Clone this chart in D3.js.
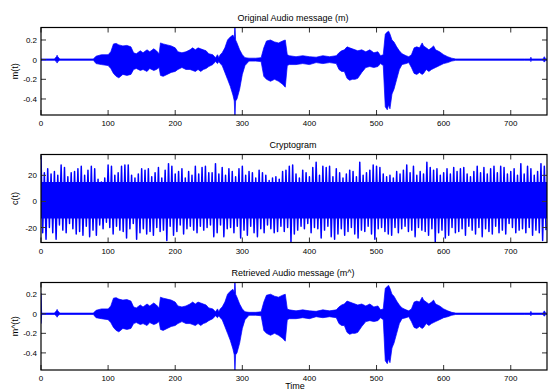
<!DOCTYPE html>
<html lang="en">
<head>
<meta charset="UTF-8">
<title>Audio encryption</title>
<style>
  body { margin: 0; background: #fff; }
  svg text { font-family: "Liberation Sans", Arial, Helvetica, sans-serif; fill: #000; }
</style>
</head>
<body>
<div id="chart"></div>
<script src="https://d3js.org/d3.v7.min.js"></script>
<script>
// ---- data ----
// audio envelope breakpoints (time, upper peak, lower peak)
const envT = [
  0, 1, 20, 23, 24, 25, 28, 78, 82, 90,
  100, 104, 108, 112, 116, 122, 128, 134, 138, 142,
  148, 152, 158, 162, 168, 172, 176, 178, 182, 188,
  194, 200, 204, 210, 216, 222, 226, 230, 234, 238,
  242, 246, 250, 256, 260, 263, 265, 267, 270, 274,
  278, 282, 286, 288, 289, 290, 292, 296, 300, 304,
  310, 320, 328, 332, 336, 342, 348, 354, 360, 364,
  367, 370, 380, 390, 400, 410, 420, 430, 440, 444,
  448, 452, 456, 460, 464, 468, 472, 478, 484, 490,
  496, 502, 506, 510, 513, 516, 518, 520, 523, 526,
  530, 534, 538, 544, 548, 552, 556, 560, 564, 568,
  570, 574, 578, 582, 585, 588, 594, 600, 606, 612,
  618, 720, 729, 730, 731, 748, 750, 752, 754
];
const audioHi = [
  0.008, 0.007, 0.007, 0.03, 0.045, 0.03, 0.007, 0.007, 0.035, 0.05,
  0.05, 0.08, 0.16, 0.165, 0.15, 0.14, 0.145, 0.13, 0.07, 0.06,
  0.09, 0.07, 0.1, 0.08, 0.11, 0.09, 0.06, 0.17, 0.16, 0.15,
  0.14, 0.12, 0.08, 0.07, 0.08, 0.1, 0.12, 0.1, 0.12, 0.11,
  0.1, 0.09, 0.06, 0.05, 0.02, 0.05, 0.02, 0.05, 0.07, 0.12,
  0.2, 0.23, 0.25, 0.22, 0.36, 0.2, 0.17, 0.1, 0.05, 0.02,
  0.015, 0.015, 0.02, 0.12, 0.19, 0.2, 0.18, 0.17, 0.19, 0.2,
  0.05, 0.04, 0.03, 0.04, 0.03, 0.025, 0.04, 0.03, 0.04, 0.07,
  0.09, 0.1, 0.13, 0.12, 0.11, 0.1, 0.09, 0.1, 0.08, 0.1,
  0.07, 0.08, 0.04, 0.05, 0.26, 0.28, 0.29, 0.26, 0.2, 0.18,
  0.13, 0.09, 0.06, 0.04, 0.03, 0.05, 0.12, 0.13, 0.12, 0.17,
  0.14, 0.12, 0.1, 0.12, 0.14, 0.1, 0.08, 0.05, 0.03, 0.015,
  0.007, 0.007, 0.007, 0.025, 0.007, 0.007, 0.03, 0.007, 0.007
];
const audioLo = [
  -0.008, -0.007, -0.007, -0.02, -0.035, -0.02, -0.007, -0.007, -0.04, -0.05,
  -0.06, -0.09, -0.14, -0.17, -0.185, -0.15, -0.16, -0.15, -0.1, -0.09,
  -0.11, -0.1, -0.12, -0.09, -0.11, -0.1, -0.08, -0.16, -0.17, -0.15,
  -0.13, -0.12, -0.1, -0.08, -0.1, -0.1, -0.11, -0.12, -0.1, -0.12,
  -0.1, -0.09, -0.07, -0.05, -0.02, -0.04, -0.02, -0.04, -0.06, -0.13,
  -0.2, -0.27, -0.36, -0.42, -0.6, -0.42, -0.4, -0.3, -0.15, -0.06,
  -0.015, -0.015, -0.02, -0.17, -0.2, -0.22, -0.2, -0.22, -0.25, -0.28,
  -0.06, -0.05, -0.05, -0.04, -0.05, -0.03, -0.04, -0.03, -0.04, -0.1,
  -0.12, -0.12, -0.19, -0.21, -0.2, -0.2, -0.19, -0.13, -0.08, -0.07,
  -0.08, -0.07, -0.04, -0.06, -0.48, -0.51, -0.46, -0.5, -0.35, -0.3,
  -0.2, -0.1, -0.05, -0.04, -0.03, -0.08, -0.14, -0.15, -0.13, -0.15,
  -0.14, -0.1, -0.12, -0.1, -0.09, -0.08, -0.06, -0.04, -0.03, -0.015,
  -0.007, -0.007, -0.007, -0.02, -0.007, -0.007, -0.025, -0.007, -0.007
];
// retrieved message: same envelope, except the click at t = 0
const retHead = [0.21, -0.1];

// cryptogram peaks, one pair every 5 time units
const cryptoT = d3.range(0, 751, 5);
const cryptoHi = [
  35, 22, 25, 21, 23, 20, 28, 26, 19, 22,
  23, 25, 27, 20, 24, 27, 25, 17, 15, 18,
  28, 27, 20, 22, 27, 28, 28, 20, 18, 21,
  25, 24, 25, 19, 22, 26, 18, 24, 29, 27,
  21, 23, 25, 18, 23, 20, 27, 21, 26, 27,
  22, 22, 29, 21, 26, 20, 25, 23, 19, 25,
  27, 20, 23, 22, 18, 24, 22, 20, 16, 18,
  19, 17, 23, 24, 27, 28, 21, 18, 24, 22,
  19, 26, 30, 20, 27, 26, 27, 19, 25, 22,
  18, 21, 24, 23, 19, 30, 20, 22, 24, 28,
  27, 26, 21, 19, 20, 18, 23, 21, 24, 28,
  22, 27, 20, 23, 21, 30, 26, 24, 25, 20,
  22, 25, 21, 26, 23, 25, 26, 21, 19, 23,
  27, 22, 26, 21, 25, 27, 22, 27, 26, 21,
  23, 25, 20, 29, 21, 27, 25, 20, 23, 29,
  27
];
const cryptoLo = [
  -24, -29, -20, -24, -29, -18, -22, -24, -17, -21,
  -25, -23, -26, -19, -27, -22, -26, -18, -21, -16,
  -20, -25, -19, -22, -23, -28, -21, -17, -29, -24,
  -21, -25, -23, -26, -20, -23, -22, -30, -19, -26,
  -23, -18, -25, -21, -19, -22, -24, -19, -22, -20,
  -18, -27, -24, -18, -27, -21, -20, -24, -19, -28,
  -22, -26, -19, -24, -27, -21, -24, -18, -21, -24,
  -23, -19, -23, -20, -31, -25, -22, -19, -21, -17,
  -24, -20, -21, -28, -22, -19, -27, -29, -25, -21,
  -26, -23, -20, -25, -28, -22, -23, -19, -25, -29,
  -21, -20, -23, -25, -26, -20, -24, -21, -19, -23,
  -22, -27, -20, -22, -23, -26, -21, -31, -24, -22,
  -28, -26, -20, -24, -23, -21, -26, -19, -22, -25,
  -20, -27, -21, -23, -25, -19, -24, -22, -25, -17,
  -20, -24, -22, -21, -24, -20, -26, -22, -24, -30,
  -22
];
// the solid core of the noise band (lower, upper)
const cryptoCore = [-13, 15];

const xTicks = [0, 100, 200, 300, 400, 500, 600, 700];
const audioTicks = [-0.4, -0.2, 0, 0.2];
const cryptoTicks = [-20, 0, 20];

// ---- layout ----
const W = 548, H = 390;
const blue = '#0000ff';

const svg = d3.select('#chart').append('svg')
  .attr('width', W)
  .attr('height', H);

const x = d3.scaleLinear().domain([0, 754]).range([41, 547]);

const panels = [
  { id: 'orig', title: 'Original Audio message (m)', ylab: 'm(t)', top: 27.5, bottom: 115, dom: [-0.563, 0.327], ticks: audioTicks },
  { id: 'crypt', title: 'Cryptogram', ylab: 'c(t)', top: 154.5, bottom: 242.5, dom: [-31.5, 36], ticks: cryptoTicks },
  { id: 'ret', title: 'Retrieved Audio message (m^)', ylab: 'm^(t)', top: 282.5, bottom: 370, dom: [-0.575, 0.32], ticks: audioTicks }
];

const orig = envT.map((t, i) => ({ t: t, hi: audioHi[i], lo: audioLo[i] }));
const ret = orig.map((d, i) => i === 0 ? { t: d.t, hi: retHead[0], lo: retHead[1] } : d);

// zigzag through the peaks: up, down, up, down...
const zig = [];
cryptoT.forEach((t, i) => {
  zig.push([t, cryptoHi[i]]);
  zig.push([t + 2.5, cryptoLo[i]]);
});

panels.forEach(p => {
  const y = d3.scaleLinear().domain(p.dom).range([p.bottom, p.top]);
  const g = svg.append('g');

  g.append('clipPath').attr('id', 'clip-' + p.id)
    .append('rect')
    .attr('x', x.range()[0]).attr('y', p.top)
    .attr('width', x.range()[1] - x.range()[0])
    .attr('height', p.bottom - p.top);

  const plot = g.append('g').attr('clip-path', `url(#clip-${p.id})`);

  if (p.id === 'crypt') {
    const band = d3.area()
      .x(d => x(d))
      .y0(y(cryptoCore[0]))
      .y1(y(cryptoCore[1]));
    plot.append('path')
      .attr('d', band(x.domain()))
      .attr('fill', blue);

    const line = d3.line().x(d => x(d[0])).y(d => y(d[1]));
    plot.append('path')
      .attr('d', line(zig))
      .attr('fill', 'none')
      .attr('stroke', blue)
      .attr('stroke-width', 1.5)
      .attr('stroke-linejoin', 'round');
  } else {
    const area = d3.area()
      .x(d => x(d.t))
      .y0(d => y(d.lo))
      .y1(d => y(d.hi));
    plot.append('path')
      .attr('d', area(p.id === 'orig' ? orig : ret))
      .attr('fill', blue)
      .attr('stroke', blue)
      .attr('stroke-width', 0.7)
      .attr('stroke-linejoin', 'round');
  }

  // ticks on all four sides, pointing inward
  const tk = 5;
  xTicks.forEach(v => {
    g.append('line').attr('x1', x(v)).attr('x2', x(v)).attr('y1', p.bottom).attr('y2', p.bottom - tk)
      .attr('stroke', '#333');
    g.append('line').attr('x1', x(v)).attr('x2', x(v)).attr('y1', p.top).attr('y2', p.top + tk)
      .attr('stroke', '#333');
    g.append('text')
      .attr('x', x(v)).attr('y', p.bottom + 11)
      .attr('text-anchor', 'middle')
      .attr('font-size', 8)
      .text(v);
  });
  p.ticks.forEach(v => {
    g.append('line').attr('x1', x.range()[0]).attr('x2', x.range()[0] + tk).attr('y1', y(v)).attr('y2', y(v))
      .attr('stroke', '#333');
    g.append('line').attr('x1', x.range()[1]).attr('x2', x.range()[1] - tk).attr('y1', y(v)).attr('y2', y(v))
      .attr('stroke', '#333');
    g.append('text')
      .attr('x', x.range()[0] - 4).attr('y', y(v) + 3)
      .attr('text-anchor', 'end')
      .attr('font-size', 8)
      .text(String(v));
  });

  // frame
  g.append('rect')
    .attr('x', x.range()[0]).attr('y', p.top)
    .attr('width', x.range()[1] - x.range()[0])
    .attr('height', p.bottom - p.top)
    .attr('fill', 'none')
    .attr('stroke', '#000')
    .attr('stroke-width', 1.2);

  // title
  g.append('text')
    .attr('x', 293).attr('y', p.top - 7)
    .attr('text-anchor', 'middle')
    .attr('font-size', 9)
    .text(p.title);

  // y label
  g.append('text')
    .attr('transform', `translate(18, ${(p.top + p.bottom) / 2}) rotate(-90)`)
    .attr('text-anchor', 'middle')
    .attr('font-size', 9)
    .text(p.ylab);
});

svg.append('text')
  .attr('x', 295).attr('y', 389)
  .attr('text-anchor', 'middle')
  .attr('font-size', 9)
  .text('Time');
</script>
</body>
</html>
